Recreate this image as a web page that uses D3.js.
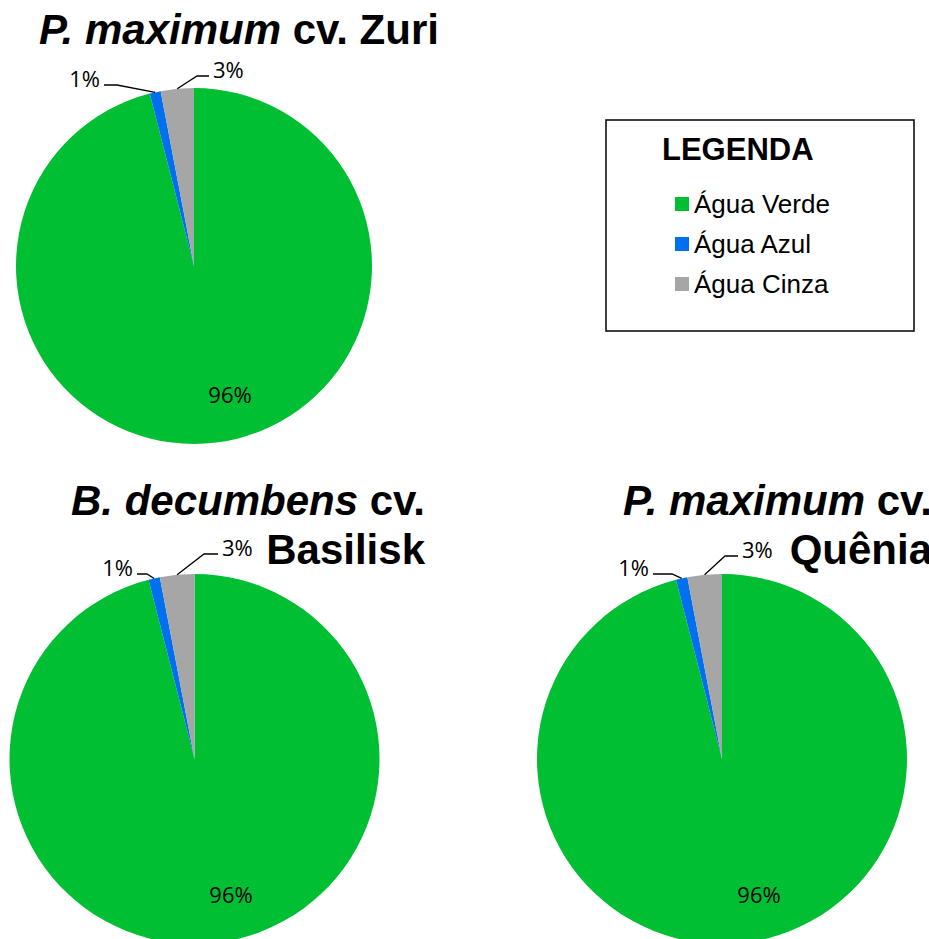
<!DOCTYPE html>
<html>
<head>
<meta charset="utf-8">
<script src="https://cdn.jsdelivr.net/npm/d3@7"></script>
<style>
  html, body { margin: 0; padding: 0; background: #ffffff; }
  svg { display: block; }
</style>
</head>
<body>
<svg id="chart" width="929" height="939"></svg>
<script>
// Water footprint shares (green / blue / grey water) for three forage grasses
const categories = ["Água Verde", "Água Azul", "Água Cinza"];
const colors = ["#00BF33", "#0070F0", "#A6A6A6"];

const zuriValues = [96, 1, 3];
const basiliskValues = [96, 1, 3];
const queniaValues = [96, 1, 3];

const zuriTitle = [[["P. maximum", true], [" cv. Zuri", false]]];
const basiliskTitle = [[["B. decumbens", true], [" cv.", false]], [["Basilisk", false]]];
const queniaTitle = [[["P. maximum", true], [" cv.", false]], [["Quênia", false]]];

const legendTitle = "LEGENDA";

// Layout of each pie panel (centre, radius, title placement, label leaders)
const panels = [
  {
    values: zuriValues, title: zuriTitle,
    cx: 194, cy: 266, r: 178,
    titleX: 39, titleY: 44, titleAnchor: "start", lineGap: 49,
    bigLabel: [36, 137],
    leaders: {
      1: { elbow: [-77, -181], end: [-90, -181], side: "left" },
      2: { elbow: [3, -190], end: [15, -190], side: "right" }
    }
  },
  {
    values: basiliskValues, title: basiliskTitle,
    cx: 194.5, cy: 759, r: 185,
    titleX: 425, titleY: 515, titleAnchor: "end", lineGap: 49,
    bigLabel: [36.5, 144],
    leaders: {
      1: { elbow: [-47.5, -185], end: [-57.5, -185], side: "left" },
      2: { elbow: [9.5, -205], end: [23.5, -205], side: "right" }
    }
  },
  {
    values: queniaValues, title: queniaTitle,
    cx: 722, cy: 759, r: 185,
    titleX: 932, titleY: 515, titleAnchor: "end", lineGap: 49,
    bigLabel: [37, 144],
    leaders: {
      1: { elbow: [-50, -185], end: [-69, -185], side: "left" },
      2: { elbow: [3, -203], end: [16, -203], side: "right" }
    }
  }
];

const svg = d3.select("#chart");
svg.append("rect").attr("width", 929).attr("height", 939).attr("fill", "#ffffff");

const color = d3.scaleOrdinal().domain(categories).range(colors);
const pie = d3.pie().sort(null).value(d => d.value).startAngle(0).endAngle(2 * Math.PI);
const pct = d3.format(".0%");

panels.forEach(p => {
  const g = svg.append("g").attr("transform", `translate(${p.cx},${p.cy})`);
  const arc = d3.arc().innerRadius(0).outerRadius(p.r);
  const data = p.values.map((v, i) => ({ key: categories[i], value: v }));
  const total = d3.sum(p.values);
  const arcs = pie(data);

  g.selectAll("path.slice")
    .data(arcs)
    .join("path")
    .attr("class", "slice")
    .attr("d", arc)
    .attr("fill", d => color(d.data.key));

  // Large slice label inside the pie
  g.append("text")
    .attr("x", p.bigLabel[0])
    .attr("y", p.bigLabel[1])
    .attr("text-anchor", "middle")
    .attr("font-family", "'Open Sans', sans-serif")
    .attr("font-size", 22)
    .attr("fill", "#000")
    .text(pct(arcs[0].value / total));

  // Small slice labels with leader lines from the arc midpoint
  arcs.forEach((a, i) => {
    const lead = p.leaders[i];
    if (!lead) return;
    const mid = (a.startAngle + a.endAngle) / 2;
    const ax = Math.sin(mid) * p.r;
    const ay = -Math.cos(mid) * p.r;
    g.append("polyline")
      .attr("points", [[ax, ay], lead.elbow, lead.end].map(q => q.join(",")).join(" "))
      .attr("fill", "none")
      .attr("stroke", "#000")
      .attr("stroke-width", 1.3);
    g.append("text")
      .attr("x", lead.end[0] + (lead.side === "left" ? -4 : 4))
      .attr("y", lead.end[1] + 1.5)
      .attr("text-anchor", lead.side === "left" ? "end" : "start")
      .attr("font-family", "'Open Sans', sans-serif")
      .attr("font-size", 22)
      .attr("fill", "#000")
      .text(pct(a.value / total));
  });

  // Title, italic species name followed by bold cultivar
  p.title.forEach((line, li) => {
    const t = svg.append("text")
      .attr("x", p.titleX)
      .attr("y", p.titleY + li * p.lineGap)
      .attr("text-anchor", p.titleAnchor)
      .attr("font-family", "'Liberation Sans', Arial, sans-serif")
      .attr("font-weight", "bold")
      .attr("font-size", 42)
      .attr("fill", "#000");
    line.forEach(([txt, it]) => {
      t.append("tspan")
        .attr("font-style", it ? "italic" : "normal")
        .text(txt);
    });
  });
});

// Legend box
const legend = svg.append("g");
legend.append("rect")
  .attr("x", 606).attr("y", 120)
  .attr("width", 308).attr("height", 211)
  .attr("fill", "#fff")
  .attr("stroke", "#111")
  .attr("stroke-width", 1.6);

legend.append("text")
  .attr("x", 662).attr("y", 160)
  .attr("font-family", "'Liberation Sans', Arial, sans-serif")
  .attr("font-weight", "bold")
  .attr("font-size", 31)
  .attr("fill", "#000")
  .text(legendTitle);

const legendY = d3.scalePoint().domain(categories).range([197, 277]);

const items = legend.selectAll("g.item")
  .data(categories)
  .join("g")
  .attr("class", "item")
  .attr("transform", d => `translate(675,${legendY(d)})`);

items.append("rect")
  .attr("width", 14).attr("height", 14)
  .attr("fill", d => color(d));

items.append("text")
  .attr("x", 19).attr("y", 16)
  .attr("font-family", "'Liberation Sans', Arial, sans-serif")
  .attr("font-size", 26)
  .attr("fill", "#000")
  .text(d => d);
</script>
</body>
</html>
